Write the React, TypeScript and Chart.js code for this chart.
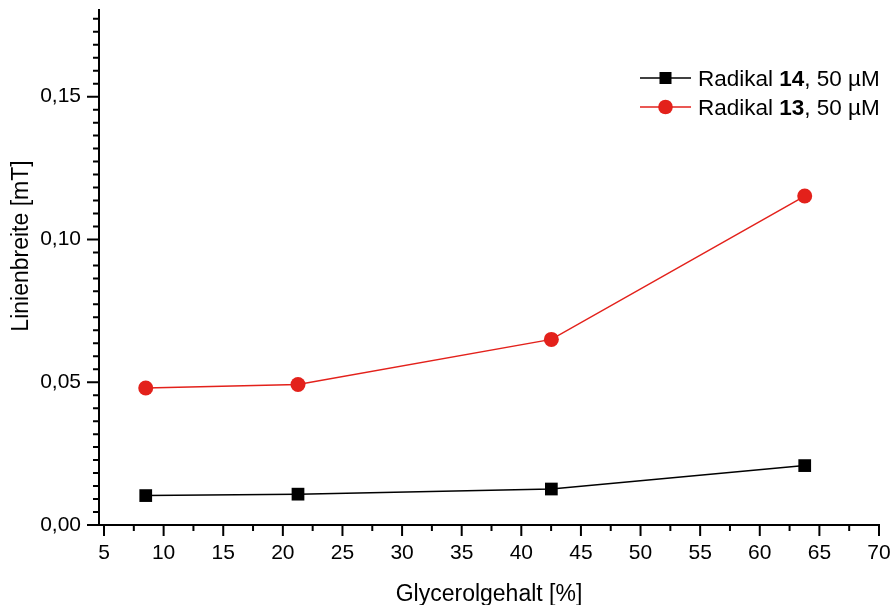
import React, { useEffect, useRef } from 'react';
import { Chart, registerables } from 'chart.js';

Chart.register(...registerables);

// ---- data ----
const glycerol = [8.5, 21.27, 42.52, 63.77];
const radikal14 = [0.0103, 0.0108, 0.0126, 0.0208];
const radikal13 = [0.048, 0.0492, 0.065, 0.1152];
const seriesNames = ['Radikal 14, 50 µM', 'Radikal 13, 50 µM'];
const legendPrefix = ['Radikal ', 'Radikal '];
const legendBold = ['14', '13'];
const legendSuffix = [', 50 µM', ', 50 µM'];
const xMajorTicks = [5, 10, 15, 20, 25, 30, 35, 40, 45, 50, 55, 60, 65, 70];
const xTickLabels = ['5', '10', '15', '20', '25', '30', '35', '40', '45', '50', '55', '60', '65', '70'];
const yMajorTicks = [0, 0.05, 0.1, 0.15];
const yTickLabels = ['0,00', '0,05', '0,10', '0,15'];
const xTitle = 'Glycerolgehalt [%]';
const yTitle = 'Linienbreite [mT]';

const FONT = "'Liberation Sans', Arial, sans-serif";
const RED = 'rgb(227,33,27)';
const BLACK = '#000000';
const seriesColors = [BLACK, RED];
const seriesStyles = ['rect', 'circle'];

const X_MIN = 4.58;
const X_MAX = 70;
const Y_MIN = 0;
const Y_MAX = 0.1807;
const X_MINOR_STEP = 2.5;
const Y_MINOR_STEP = 0.05 / 11;

const TICK_SIZE = 21;
const TITLE_SIZE = 23;
const LEGEND_SIZE = 22.5;

const originPlugin = {
  id: 'originLook',
  afterDraw(chart: any) {
    const { ctx, chartArea: ca, scales } = chart;
    const xs = scales.x;
    const ys = scales.y;
    ctx.save();
    ctx.strokeStyle = BLACK;
    ctx.fillStyle = BLACK;
    ctx.lineWidth = 2;
    ctx.lineCap = 'butt';

    // axis lines
    ctx.beginPath();
    ctx.moveTo(ca.left, ca.top);
    ctx.lineTo(ca.left, ca.bottom + 1);
    ctx.moveTo(ca.left - 1, ca.bottom);
    ctx.lineTo(ca.right + 1, ca.bottom);
    ctx.stroke();

    // x ticks (major + minor), outward (down)
    ctx.beginPath();
    for (let v = xMajorTicks[0]; v <= X_MAX + 1e-9; v += X_MINOR_STEP) {
      const isMajor = xMajorTicks.some((m) => Math.abs(m - v) < 1e-6);
      const px = xs.getPixelForValue(v);
      ctx.moveTo(px, ca.bottom);
      ctx.lineTo(px, ca.bottom + (isMajor ? 11 : 6));
    }
    // y ticks, outward (left)
    for (let k = 0; ; k++) {
      const v = Y_MIN + k * Y_MINOR_STEP;
      if (v > Y_MAX + 1e-9) break;
      const isMajor = k % 11 === 0;
      const py = ys.getPixelForValue(v);
      ctx.moveTo(ca.left, py);
      ctx.lineTo(ca.left - (isMajor ? 12 : 6), py);
    }
    ctx.stroke();

    // axis titles
    ctx.font = `${TITLE_SIZE}px ${FONT}`;
    ctx.textAlign = 'center';
    ctx.textBaseline = 'alphabetic';
    ctx.fillText(xTitle, (ca.left + ca.right) / 2, 601);
    ctx.save();
    ctx.translate(28, 246);
    ctx.rotate(-Math.PI / 2);
    ctx.fillText(yTitle, 0, 0);
    ctx.restore();

    // legend
    const lx0 = 640;
    const lx1 = 691;
    const mx = 665.5;
    const tx = 698;
    chart.data.datasets.forEach((ds: any, i: number) => {
      const ly = 78 + i * 29;
      ctx.strokeStyle = ds.borderColor;
      ctx.fillStyle = ds.pointBackgroundColor;
      ctx.lineWidth = 1.5;
      ctx.beginPath();
      ctx.moveTo(lx0, ly);
      ctx.lineTo(lx1, ly);
      ctx.stroke();
      if (ds.pointStyle === 'rect') {
        ctx.fillRect(mx - 6, ly - 6, 12, 12);
      } else {
        ctx.beginPath();
        ctx.arc(mx, ly, 7.3, 0, Math.PI * 2);
        ctx.fill();
      }
      ctx.fillStyle = BLACK;
      ctx.textAlign = 'left';
      ctx.textBaseline = 'alphabetic';
      let x = tx;
      const base = ly + 8;
      ctx.font = `${LEGEND_SIZE}px ${FONT}`;
      ctx.fillText(legendPrefix[i], x, base);
      x += ctx.measureText(legendPrefix[i]).width;
      ctx.font = `bold ${LEGEND_SIZE}px ${FONT}`;
      ctx.fillText(legendBold[i], x, base);
      x += ctx.measureText(legendBold[i]).width;
      ctx.font = `${LEGEND_SIZE}px ${FONT}`;
      ctx.fillText(legendSuffix[i], x, base);
    });
    ctx.restore();
  },
};

export default function App() {
  const ref = useRef<HTMLCanvasElement | null>(null);

  useEffect(() => {
    document.body.style.margin = '0';
    if (!ref.current) return;
    Chart.defaults.font.family = FONT;
    Chart.defaults.color = BLACK;

    const seriesValues = [radikal14, radikal13];
    const chart = new Chart(ref.current, {
      type: 'line',
      data: {
        datasets: seriesValues.map((vals, i) => ({
          label: seriesNames[i],
          data: glycerol.map((g, j) => ({ x: g, y: vals[j] })),
          borderColor: seriesColors[i],
          backgroundColor: seriesColors[i],
          pointBackgroundColor: seriesColors[i],
          pointBorderColor: seriesColors[i],
          pointBorderWidth: 0,
          pointStyle: seriesStyles[i] as any,
          pointRadius: i === 0 ? 9 : 7.5,
          borderWidth: 1.5,
          tension: 0,
          fill: false,
        })),
      },
      options: {
        responsive: false,
        animation: false,
        devicePixelRatio: 1,
        layout: { padding: { top: 9, right: 13, left: 0, bottom: 0 } },
        plugins: {
          legend: { display: false },
          tooltip: { enabled: false },
        },
        scales: {
          x: {
            type: 'linear',
            min: X_MIN,
            max: X_MAX,
            grid: { display: false, drawTicks: false },
            border: { display: false },
            afterBuildTicks: (s: any) => {
              s.ticks = xMajorTicks.map((v) => ({ value: v }));
            },
            afterFit: (s: any) => {
              s.height = 80;
              s.paddingLeft = 0;
              s.paddingRight = 0;
            },
            ticks: {
              autoSkip: false,
              maxRotation: 0,
              padding: 16,
              font: { size: TICK_SIZE, family: FONT },
              color: BLACK,
              callback: (v: any) => {
                const idx = xMajorTicks.indexOf(Number(v));
                return idx >= 0 ? xTickLabels[idx] : '';
              },
            },
          },
          y: {
            type: 'linear',
            min: Y_MIN,
            max: Y_MAX,
            grid: { display: false, drawTicks: false },
            border: { display: false },
            afterBuildTicks: (s: any) => {
              s.ticks = yMajorTicks.map((v) => ({ value: v }));
            },
            afterFit: (s: any) => {
              s.width = 99;
              s.paddingTop = 0;
              s.paddingBottom = 0;
            },
            ticks: {
              autoSkip: false,
              padding: 18,
              font: { size: TICK_SIZE, family: FONT },
              color: BLACK,
              callback: (v: any) => {
                const idx = yMajorTicks.findIndex((m) => Math.abs(m - Number(v)) < 1e-9);
                return idx >= 0 ? yTickLabels[idx] : '';
              },
            },
          },
        },
      },
      plugins: [originPlugin],
    });
    return () => chart.destroy();
  }, []);

  return (
    <div style={{ width: 892, height: 605 }}>
      <canvas ref={ref} width={892} height={605} style={{ display: 'block' }} />
    </div>
  );
}
